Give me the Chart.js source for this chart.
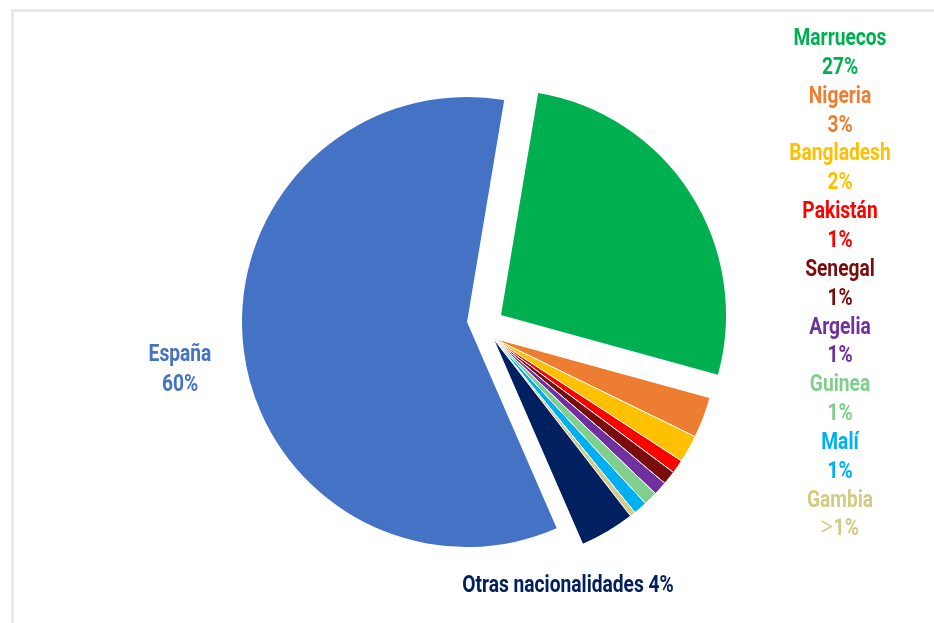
<!DOCTYPE html>
<html lang="es">
<head>
<meta charset="utf-8">
<title>Nacionalidades</title>
<script src="https://cdn.jsdelivr.net/npm/chart.js@4.4.1/dist/chart.umd.min.js"></script>
<style>
  html, body { margin: 0; padding: 0; background: #fff; }
  #wrap { position: relative; width: 934px; height: 623px; overflow: hidden; }
  #wrap canvas { position: absolute; left: 0; top: 0; }
  #frame {
    position: absolute; left: 11px; top: 9px; right: -5px; bottom: -5px;
    border-top: 3px solid #e8e8e8; border-left: 3px solid #e8e8e8;
  }
</style>
</head>
<body>
<div id="wrap">
  <div id="frame"></div>
  <canvas id="pie-spain" width="934" height="623"></canvas>
  <canvas id="pie-morocco" width="934" height="623"></canvas>
  <canvas id="pie-rest" width="934" height="623"></canvas>
</div>
<script>
const countries = ["España", "Marruecos", "Nigeria", "Bangladesh", "Pakistán", "Senegal",
  "Argelia", "Guinea", "Malí", "Gambia", "Otras nacionalidades"];
const shares = [60, 27, 3, 2, 1, 1, 1, 1, 1, 0.4, 4];
const shareLabels = ["60%", "27%", "3%", "2%", "1%", "1%", "1%", "1%", "1%", ">1%", "4%"];

const colors = ["#4472C4", "#00B050", "#ED7D31", "#FFC000", "#FF0000", "#7B0C0C",
  "#7030A0", "#80CF8C", "#00B0F0", "#CFCD83", "#002060"];

// no condensed face is installed, so Roboto is squeezed horizontally
const SQUEEZE = 0.8;

function narrowText(ctx, text, x, y, weight, size) {
  ctx.save();
  ctx.font = weight + " " + (size || 24) + "px Roboto, 'DejaVu Sans', sans-serif";
  ctx.translate(x, y);
  ctx.scale(SQUEEZE, 1);
  ctx.fillText(text, 0, 0);
  ctx.restore();
}

function narrowWidth(ctx, text, weight, size) {
  ctx.save();
  ctx.font = weight + " " + (size || 24) + "px Roboto, 'DejaVu Sans', sans-serif";
  const w = ctx.measureText(text).width * SQUEEZE;
  ctx.restore();
  return w;
}

// text around the pie, drawn on the top canvas only
const labelPlugin = {
  id: "sliceLabels",
  afterDraw(chart) {
    const ctx = chart.ctx;
    const step = 28.85;
    ctx.save();
    ctx.textAlign = "center";
    ctx.textBaseline = "alphabetic";
    for (let i = 1; i <= 9; i++) {
      const y = 45 + (i - 1) * 2 * step;
      ctx.fillStyle = colors[i];
      narrowText(ctx, countries[i], 840, y, "bold");
      const txt = shareLabels[i];
      if (txt.startsWith(">")) {
        // the "greater than" sign is set thin and large
        const rest = txt.slice(1);
        const w = narrowWidth(ctx, rest, "bold");
        const gt = narrowWidth(ctx, ">", "300", 30);
        narrowText(ctx, rest, 840 + gt / 2, y + step, "bold");
        narrowText(ctx, ">", 840 - w / 2 - 1, y + step + 1, "300", 30);
      } else {
        narrowText(ctx, txt, 840, y + step, "bold");
      }
    }
    ctx.fillStyle = colors[0];
    narrowText(ctx, countries[0], 180, 361, "bold");
    narrowText(ctx, shareLabels[0], 180, 391, "bold");
    ctx.fillStyle = colors[10];
    narrowText(ctx, countries[10] + " " + shareLabels[10], 568, 592, "bold");
    ctx.restore();
  }
};

// each canvas shows one group of slices, the rest stay transparent,
// so every group gets its own pulled-out centre
function createPie(element, visible, padding, plugins) {
  const show = (i) => visible.includes(i);
  return new Chart(element, {
    type: "pie",
    data: {
      labels: countries,
      datasets: [{
        data: shares,
        backgroundColor: colors.map((c, i) => show(i) ? c : "rgba(0,0,0,0)"),
        borderColor: colors.map((c, i) => show(i) ? "#ffffff" : "rgba(0,0,0,0)"),
        borderWidth: colors.map((c, i) => show(i) && visible.length > 1 ? 1 : 0)
      }]
    },
    options: {
      responsive: false,
      animation: false,
      events: [],
      rotation: 156.5,
      radius: 225,
      layout: { padding: padding },
      plugins: {
        legend: { display: false },
        tooltip: { enabled: false }
      }
    },
    plugins: plugins || []
  });
}

createPie(document.getElementById("pie-spain"), [0], { left: 0, right: 0, top: 21, bottom: 0 });
createPie(document.getElementById("pie-morocco"), [1], { left: 68, right: 0, top: 7, bottom: 0 });
createPie(document.getElementById("pie-rest"), [2, 3, 4, 5, 6, 7, 8, 9, 10],
  { left: 52, right: 0, top: 53, bottom: 0 }, [labelPlugin]);
</script>
</body>
</html>
